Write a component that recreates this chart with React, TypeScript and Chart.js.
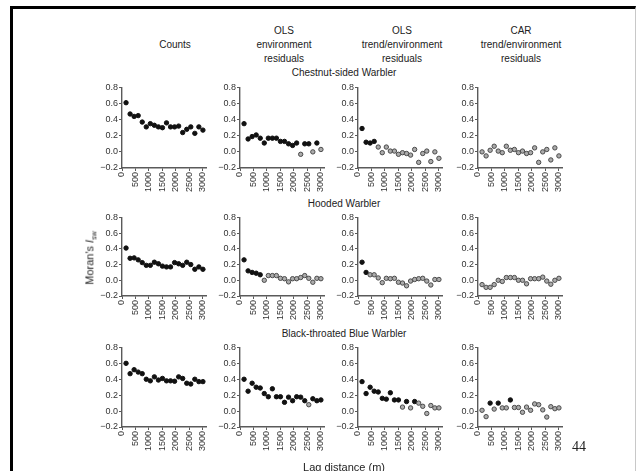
import React, { useEffect, useRef } from 'react';
import { Chart, registerables } from 'chart.js';

Chart.register(...registerables);

// ---------- data ----------
const LAGS = [150, 300, 450, 600, 750, 900, 1050, 1200, 1350, 1500, 1650, 1800, 1950, 2100, 2250, 2400, 2550, 2700, 2850, 3000];
const X_TICKS = [0, 500, 1000, 1500, 2000, 2500, 3000];
const Y_TICKS = [-0.2, 0, 0.2, 0.4, 0.6, 0.8];

const COLUMN_TITLES = [
  ['Counts'],
  ['OLS', 'environment', 'residuals'],
  ['OLS', 'trend/environment', 'residuals'],
  ['CAR', 'trend/environment', 'residuals'],
];
const SPECIES = ['Chestnut-sided Warbler', 'Hooded Warbler', 'Black-throated Blue Warbler'];
const Y_TITLE = "Moran's ";
const X_TITLE = 'Lag distance (m)';
const PAGE_NUMBER = '44';

// Chestnut-sided Warbler
const CSW_COUNTS = [0.61, 0.47, 0.44, 0.45, 0.37, 0.31, 0.35, 0.33, 0.31, 0.30, 0.36, 0.31, 0.31, 0.32, 0.24, 0.28, 0.31, 0.23, 0.31, 0.27];
const CSW_COUNTS_SIG = [1, 1, 1, 1, 1, 1, 1, 1, 1, 1, 1, 1, 1, 1, 1, 1, 1, 1, 1, 1];
const CSW_OLS_ENV = [0.35, 0.16, 0.19, 0.21, 0.17, 0.11, 0.17, 0.17, 0.17, 0.13, 0.13, 0.10, 0.08, 0.11, -0.03, 0.10, 0.10, 0.00, 0.11, 0.03];
const CSW_OLS_ENV_SIG = [1, 1, 1, 1, 1, 1, 1, 1, 1, 1, 1, 1, 1, 1, 0, 1, 1, 0, 1, 0];
const CSW_OLS_TREND = [0.29, 0.12, 0.11, 0.13, 0.06, -0.01, 0.06, 0.01, 0.01, -0.03, -0.01, -0.02, -0.04, 0.03, -0.13, -0.02, 0.01, -0.12, 0.00, -0.08];
const CSW_OLS_TREND_SIG = [1, 1, 1, 1, 0, 0, 0, 0, 0, 0, 0, 0, 0, 0, 0, 0, 0, 0, 0, 0];
const CSW_CAR = [0.00, -0.05, 0.02, 0.07, 0.01, -0.01, 0.07, 0.02, 0.03, -0.01, 0.01, -0.02, -0.01, 0.05, -0.13, 0.00, 0.03, -0.10, 0.05, -0.05];
const CSW_CAR_SIG = [0, 0, 0, 0, 0, 0, 0, 0, 0, 0, 0, 0, 0, 0, 0, 0, 0, 0, 0, 0];

// Hooded Warbler
const HW_COUNTS = [0.41, 0.28, 0.285, 0.26, 0.225, 0.19, 0.19, 0.23, 0.21, 0.18, 0.17, 0.17, 0.225, 0.21, 0.19, 0.23, 0.20, 0.14, 0.17, 0.14];
const HW_COUNTS_SIG = [1, 1, 1, 1, 1, 1, 1, 1, 1, 1, 1, 1, 1, 1, 1, 1, 1, 1, 1, 1];
const HW_OLS_ENV = [0.26, 0.12, 0.10, 0.09, 0.07, 0.00, 0.06, 0.06, 0.06, 0.025, 0.02, -0.02, 0.02, 0.02, 0.035, 0.06, 0.025, -0.025, 0.025, 0.02];
const HW_OLS_ENV_SIG = [1, 1, 1, 1, 1, 0, 0, 0, 0, 0, 0, 0, 0, 0, 0, 0, 0, 0, 0, 0];
const HW_OLS_TREND = [0.23, 0.10, 0.07, 0.07, 0.03, -0.03, 0.025, 0.02, 0.025, -0.025, -0.035, -0.07, -0.01, 0.01, 0.02, 0.025, -0.01, -0.06, 0.01, 0.01];
const HW_OLS_TREND_SIG = [1, 1, 0, 0, 0, 0, 0, 0, 0, 0, 0, 0, 0, 0, 0, 0, 0, 0, 0, 0];
const HW_CAR = [-0.055, -0.09, -0.09, -0.055, 0.00, -0.015, 0.035, 0.035, 0.035, 0.00, 0.00, -0.045, 0.02, 0.02, 0.02, 0.04, -0.01, -0.05, 0.00, 0.025];
const HW_CAR_SIG = [0, 0, 0, 0, 0, 0, 0, 0, 0, 0, 0, 0, 0, 0, 0, 0, 0, 0, 0, 0];

// Black-throated Blue Warbler
const BTB_COUNTS = [0.60, 0.47, 0.52, 0.49, 0.47, 0.40, 0.38, 0.43, 0.39, 0.41, 0.38, 0.38, 0.375, 0.43, 0.41, 0.35, 0.34, 0.40, 0.37, 0.37];
const BTB_COUNTS_SIG = [1, 1, 1, 1, 1, 1, 1, 1, 1, 1, 1, 1, 1, 1, 1, 1, 1, 1, 1, 1];
const BTB_OLS_ENV = [0.40, 0.25, 0.35, 0.30, 0.29, 0.22, 0.18, 0.28, 0.18, 0.18, 0.11, 0.175, 0.13, 0.18, 0.175, 0.13, 0.08, 0.155, 0.13, 0.14];
const BTB_OLS_ENV_SIG = [1, 1, 1, 1, 1, 1, 1, 1, 1, 1, 1, 1, 1, 1, 1, 1, 0, 1, 1, 1];
const BTB_OLS_TREND = [0.37, 0.22, 0.30, 0.25, 0.24, 0.16, 0.15, 0.23, 0.14, 0.14, 0.05, 0.12, 0.04, 0.12, 0.10, 0.06, -0.03, 0.07, 0.04, 0.04];
const BTB_OLS_TREND_SIG = [1, 1, 1, 1, 1, 1, 1, 1, 1, 1, 0, 1, 0, 1, 0, 0, 0, 0, 0, 0];
const BTB_CAR = [0.01, -0.07, 0.10, 0.025, 0.10, 0.04, 0.04, 0.14, 0.045, 0.045, -0.015, 0.05, 0.01, 0.09, 0.08, 0.015, -0.075, 0.055, 0.03, 0.04];
const BTB_CAR_SIG = [0, 0, 1, 0, 1, 0, 0, 1, 0, 0, 0, 0, 0, 0, 0, 0, 0, 0, 0, 0];

const PANELS = [
  [[CSW_COUNTS, CSW_COUNTS_SIG], [CSW_OLS_ENV, CSW_OLS_ENV_SIG], [CSW_OLS_TREND, CSW_OLS_TREND_SIG], [CSW_CAR, CSW_CAR_SIG]],
  [[HW_COUNTS, HW_COUNTS_SIG], [HW_OLS_ENV, HW_OLS_ENV_SIG], [HW_OLS_TREND, HW_OLS_TREND_SIG], [HW_CAR, HW_CAR_SIG]],
  [[BTB_COUNTS, BTB_COUNTS_SIG], [BTB_OLS_ENV, BTB_OLS_ENV_SIG], [BTB_OLS_TREND, BTB_OLS_TREND_SIG], [BTB_CAR, BTB_CAR_SIG]],
];

// ---------- layout ----------
const PLOT_LEFT = [122, 240, 358, 478];
const PLOT_TOP = [87, 217, 347];
const PLOT_H = [81, 79, 80];
const PLOT_W = 87;
const X_MAX = 3150;
const Y_AXIS_W = 28;
const X_AXIS_H = 28;
const PAD_TOP = 6;
const PAD_RIGHT = 6;

const SANS = "'Liberation Sans', Arial, Helvetica, sans-serif";
const TICK_FONT = "'Liberation Sans Narrow', 'Arial Narrow', 'Liberation Sans', Arial, sans-serif";
const AXIS_COLOR = '#5a5a5a';
const TEXT_COLOR = '#222';

function fmtY(v: number) {
  const r = Math.round(v * 10) / 10;
  return (r < 0 ? '\u2212' : '') + Math.abs(r).toFixed(1);
}

function Panel({ left, top, h, values, sig }: { left: number; top: number; h: number; values: number[]; sig: number[] }) {
  const ref = useRef<HTMLCanvasElement>(null);
  const width = Y_AXIS_W + PLOT_W + PAD_RIGHT;
  const height = PAD_TOP + h + X_AXIS_H;
  useEffect(() => {
    if (!ref.current) return;
    const chart = new Chart(ref.current, {
      type: 'scatter',
      data: {
        datasets: [
          {
            data: LAGS.map((x, i) => ({ x, y: values[i] })),
            pointRadius: 2.2,
            pointBorderWidth: 1,
            pointBackgroundColor: (ctx: any) => (sig[ctx.dataIndex] ? '#111' : '#ababab'),
            pointBorderColor: (ctx: any) => (sig[ctx.dataIndex] ? '#111' : '#4a4a4a'),
            showLine: false,
            clip: false,
          } as any,
        ],
      },
      options: {
        animation: false,
        responsive: false,
        maintainAspectRatio: false,
        events: [],
        layout: { padding: { top: PAD_TOP, right: PAD_RIGHT, left: 0, bottom: 0 } },
        plugins: { legend: { display: false }, tooltip: { enabled: false }, title: { display: false } },
        scales: {
          x: {
            type: 'linear',
            min: 0,
            max: X_MAX,
            afterBuildTicks: (s: any) => {
              s.ticks = X_TICKS.map((v) => ({ value: v }));
            },
            afterFit: (s: any) => {
              s.height = X_AXIS_H;
            },
            grid: { display: true, drawOnChartArea: false, drawTicks: true, tickLength: 3, color: AXIS_COLOR, lineWidth: 1 },
            border: { display: true, color: AXIS_COLOR, width: 1.4 },
            ticks: {
              autoSkip: false,
              minRotation: 90,
              maxRotation: 90,
              padding: 1,
              color: '#333',
              font: { family: TICK_FONT, size: 9 },
              callback: (v: any) => String(v),
            },
          },
          y: {
            type: 'linear',
            min: -0.2,
            max: 0.8,
            afterBuildTicks: (s: any) => {
              s.ticks = Y_TICKS.map((v) => ({ value: v }));
            },
            afterFit: (s: any) => {
              s.width = Y_AXIS_W;
            },
            grid: { display: true, drawOnChartArea: false, drawTicks: true, tickLength: 3, color: AXIS_COLOR, lineWidth: 1 },
            border: { display: true, color: AXIS_COLOR, width: 1.4 },
            ticks: {
              padding: 1,
              color: '#333',
              font: { family: TICK_FONT, size: 9 },
              callback: (v: any) => fmtY(Number(v)),
            },
          },
        },
      } as any,
    });
    return () => chart.destroy();
  }, [values, sig, h]);
  return (
    <canvas
      ref={ref}
      width={width}
      height={height}
      style={{ position: 'absolute', left: left - Y_AXIS_W, top: top - PAD_TOP, width, height }}
    />
  );
}

const HEADER_CENTER_X = [175, 284, 402, 521];
const HEADER_LINE_Y = [31, 45, 59];
const SPECIES_Y = [73, 204, 334];
const SPECIES_X = 344;

function Text({ x, y, children, size = 10, family = SANS, style = {} }: any) {
  return (
    <div
      style={{
        position: 'absolute',
        left: x,
        top: y,
        transform: 'translate(-50%, -50%)',
        fontFamily: family,
        fontSize: size,
        lineHeight: `${size + 2}px`,
        color: TEXT_COLOR,
        whiteSpace: 'nowrap',
        ...style,
      }}
    >
      {children}
    </div>
  );
}

export default function App() {
  return (
    <div
      style={{
        position: 'fixed',
        left: 0,
        top: 0,
        width: 637,
        height: 471,
        overflow: 'hidden',
        background: '#fff',
      }}
    >
      {/* slide frame */}
      <div
        style={{
          position: 'absolute',
          left: 10,
          top: 6,
          width: 622,
          height: 480,
          borderTop: '3px solid #000',
          borderLeft: '3px solid #000',
          borderRight: '1px solid #c8c8c8',
        }}
      />
      {COLUMN_TITLES.map((lines, c) =>
        lines.length === 1 ? (
          <Text key={'h' + c} x={HEADER_CENTER_X[c]} y={HEADER_LINE_Y[1]}>
            {lines[0]}
          </Text>
        ) : (
          lines.map((t, i) => (
            <Text key={'h' + c + '-' + i} x={HEADER_CENTER_X[c]} y={HEADER_LINE_Y[i]}>
              {t}
            </Text>
          ))
        )
      )}
      {SPECIES.map((s, r) => (
        <Text key={'s' + r} x={SPECIES_X} y={SPECIES_Y[r]}>
          {s}
        </Text>
      ))}
      {PANELS.map((row, r) =>
        row.map(([values, sig], c) => (
          <Panel key={r + '-' + c} left={PLOT_LEFT[c]} top={PLOT_TOP[r]} h={PLOT_H[r]} values={values} sig={sig} />
        ))
      )}
      <Text x={92} y={258} size={11} style={{ transform: 'translate(-50%, -50%) rotate(-90deg)' }}>
        {Y_TITLE}
        <i>I</i>
        <sub style={{ fontSize: 7 }}>sw</sub>
      </Text>
      <Text x={344} y={467} size={11}>
        {X_TITLE}
      </Text>
      <Text x={579} y={447} size={14} family="'Liberation Serif', 'Times New Roman', serif">
        {PAGE_NUMBER}
      </Text>
    </div>
  );
}
